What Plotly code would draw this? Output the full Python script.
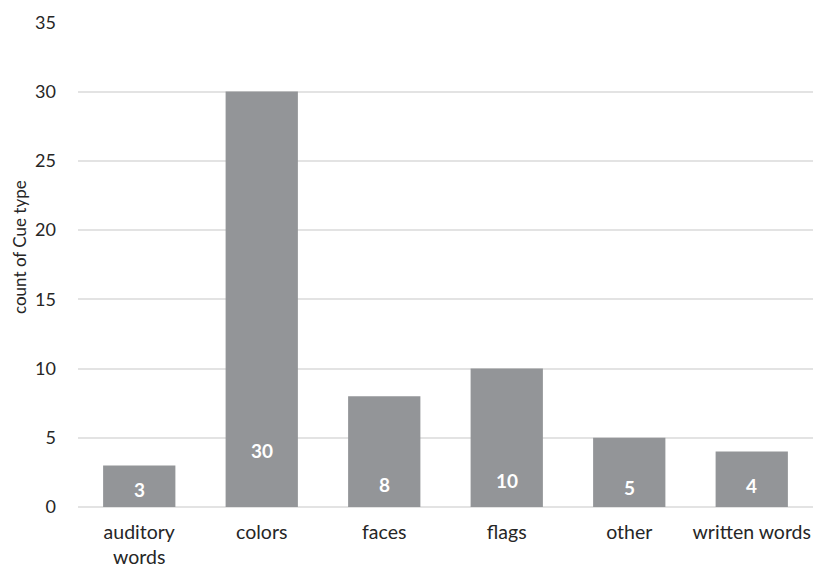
import plotly.graph_objects as go

# Cue type counts
categories = ["auditory<br>words", "colors", "faces", "flags", "other", "written words"]
counts = [3, 30, 8, 10, 5, 4]
y_ticks = [0, 5, 10, 15, 20, 25, 30, 35]

# vertical position (in count units) of each value label inside its bar
label_y = [1.23, 4.1, 1.59, 1.88, 1.44, 1.52]

FONT = "Lato, Open Sans, sans-serif"
TEXT = "#262626"

fig = go.Figure(
    go.Bar(
        x=categories,
        y=counts,
        marker=dict(color="#939598", line=dict(width=0)),
        hoverinfo="x+y",
    )
)

for cat, val, ly in zip(categories, counts, label_y):
    fig.add_annotation(
        x=cat, y=ly, xref="x", yref="y",
        text=f"<b>{val}</b>", showarrow=False,
        xanchor="center", yanchor="middle",
        font=dict(color="white", size=19, family=FONT),
    )

PLOT_L, PLOT_R, PLOT_T, PLOT_B = 78, 813, 22, 507

fig.add_annotation(
    text="count of Cue type",
    xref="paper", yref="paper",
    x=(19 - PLOT_L) / (PLOT_R - PLOT_L),
    y=(PLOT_B - 247) / (PLOT_B - PLOT_T),
    xanchor="center", yanchor="middle",
    textangle=-90, showarrow=False,
    font=dict(size=17, color=TEXT, family=FONT),
)

fig.update_layout(
    width=813,
    height=568,
    margin=dict(l=PLOT_L, r=813 - PLOT_R, t=PLOT_T, b=568 - PLOT_B),
    plot_bgcolor="white",
    paper_bgcolor="white",
    bargap=0.41,
    showlegend=False,
    font=dict(family=FONT, size=18, color=TEXT),
)

fig.update_xaxes(
    showgrid=False,
    showline=False,
    ticks="",
    tickfont=dict(size=19.5, color=TEXT),
    ticklabelstandoff=11,
)
fig.update_yaxes(
    range=[0, 35.02],
    tickvals=y_ticks,
    showgrid=True,
    gridcolor="#e3e3e3",
    gridwidth=2,
    zeroline=True,
    zerolinecolor="#e3e3e3",
    zerolinewidth=2,
    showline=False,
    ticks="",
    tickfont=dict(size=18, color=TEXT),
    ticklabelstandoff=21,
)

fig.write_html("out.html")
